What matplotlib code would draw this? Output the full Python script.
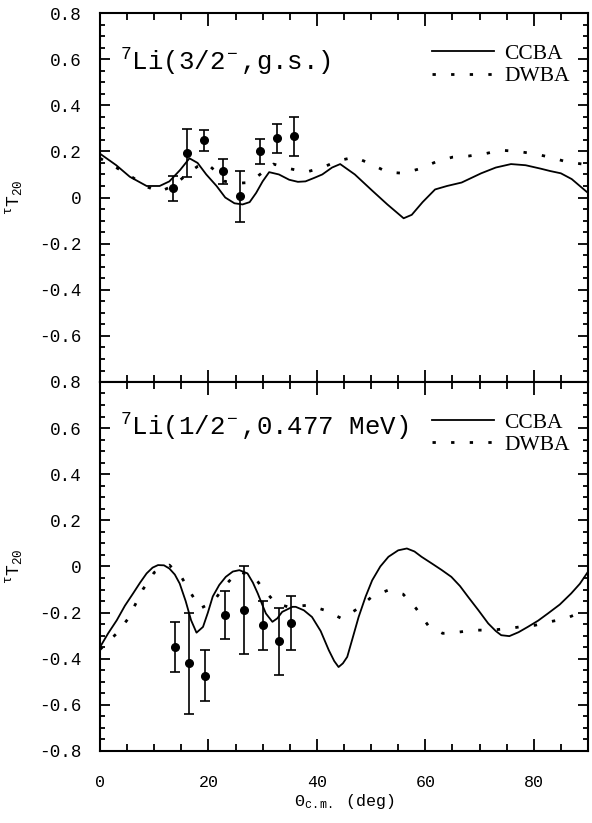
import numpy as np
import matplotlib
matplotlib.use("Agg")
import matplotlib.pyplot as plt
from matplotlib.ticker import MultipleLocator

plt.rcParams['mathtext.fontset'] = 'custom'
plt.rcParams['mathtext.rm'] = 'Liberation Mono'
plt.rcParams['mathtext.it'] = 'Liberation Mono'
plt.rcParams['font.family'] = ['Liberation Mono', 'DejaVu Sans']

### top panel: 7Li(3/2-, g.s.)
gs_x = [13.4, 16.0, 19.2, 22.7, 25.8, 29.5, 32.6, 35.8]
gs_y = [0.04, 0.194, 0.248, 0.114, 0.005, 0.20, 0.257, 0.265]
gs_err = [0.055, 0.105, 0.045, 0.055, 0.11, 0.055, 0.062, 0.085]

gs_ccba_x = [0, 3, 5.5, 8.6, 11, 12.8, 14.8, 16.5, 18, 19.6, 21.5, 23.1, 24.8, 26.3,
             27.6, 28.8, 30, 31.2, 33, 34.9, 36.5, 37.9, 39.5, 41, 42.8, 44.3, 47,
             50.2, 53, 56, 57.5, 59.5, 61.8, 64, 66.7, 70.3, 73, 75.8, 78.5, 81.3,
             83, 85, 87, 89, 90]
gs_ccba_y = [0.19, 0.14, 0.09, 0.05, 0.05, 0.07, 0.12, 0.17, 0.15, 0.10, 0.05, 0.0,
             -0.025, -0.03, -0.02, 0.02, 0.07, 0.11, 0.10, 0.077, 0.068, 0.07, 0.085,
             0.10, 0.13, 0.145, 0.10, 0.03, -0.03, -0.09, -0.075, -0.02, 0.035, 0.05,
             0.065, 0.105, 0.13, 0.145, 0.14, 0.125, 0.115, 0.105, 0.08, 0.04, 0.02]

gs_dwba_x = [0, 3, 5.5, 8.6, 11, 13.4, 15, 16.5, 18, 19.6, 21.5, 23, 25.5, 27.5, 29.5,
             32, 35, 38, 41, 44, 47, 50, 53, 56, 59, 62, 65, 68, 71, 74, 77, 80, 83,
             86, 89, 90]
gs_dwba_y = [0.17, 0.13, 0.095, 0.047, 0.025, 0.05, 0.08, 0.11, 0.135, 0.15, 0.11,
             0.07, 0.062, 0.065, 0.10, 0.145, 0.125, 0.11, 0.13, 0.16, 0.175, 0.145,
             0.11, 0.105, 0.125, 0.155, 0.175, 0.18, 0.19, 0.205, 0.20, 0.19, 0.175,
             0.155, 0.145, 0.14]

### bottom panel: 7Li(1/2-, 0.477 MeV)
ex_x = [13.8, 16.4, 19.3, 23.1, 26.5, 30.0, 33.0, 35.3]
ex_y = [-0.349, -0.42, -0.473, -0.21, -0.19, -0.255, -0.324, -0.245]
ex_err = [0.11, 0.22, 0.11, 0.105, 0.19, 0.105, 0.145, 0.115]

ex_ccba_x = [0, 1.5, 3.1, 4.6, 6.1, 7.4, 8.6, 9.7, 10.7, 11.8, 12.8, 13.8, 14.7, 15.8,
             16.8, 17.8, 19.0, 19.9, 20.8, 22.0, 23.2, 24.5, 25.7, 27.2, 28.2, 29.1,
             30.0, 30.6, 31.8, 32.7, 33.6, 35.5, 36.1, 37.6, 39.1, 40.7, 42.2, 43.2,
             44.0, 44.8, 45.6, 46.6, 47.7, 49.0, 50.2, 51.7, 53.2, 55.0, 56.6, 58.0,
             59.3, 61.2, 63.0, 64.8, 66.4, 67.9, 69.8, 71.6, 73.0, 74.0, 75.5, 77.2,
             78.9, 80.8, 82.6, 84.8, 86.9, 88.5, 90]
ex_ccba_y = [-0.35, -0.29, -0.233, -0.17, -0.117, -0.07, -0.03, -0.005, 0.006, 0.005,
             -0.009, -0.035, -0.074, -0.15, -0.233, -0.287, -0.262, -0.2, -0.13, -0.08,
             -0.045, -0.022, -0.016, -0.03, -0.07, -0.117, -0.17, -0.204, -0.24, -0.225,
             -0.197, -0.175, -0.175, -0.19, -0.219, -0.28, -0.363, -0.41, -0.436, -0.42,
             -0.392, -0.31, -0.219, -0.13, -0.06, 0.0, 0.042, 0.07, 0.078, 0.065, 0.042,
             0.013, -0.015, -0.045, -0.085, -0.132, -0.19, -0.247, -0.28, -0.298,
             -0.302, -0.285, -0.262, -0.235, -0.204, -0.165, -0.117, -0.075, -0.023]

ex_dwba_x = [0, 3.1, 5.2, 7.9, 10.0, 12.8, 15.0, 16.8, 18.5, 20.9, 23.1, 25.5, 28.2,
             30.4, 32.5, 34.7, 38.5, 41.5, 44.6, 47.6, 50.1, 53.1, 55.9, 58.3, 60.5,
             63.2, 66.0, 69.0, 72.0, 75.1, 77.4, 80.2, 82.9, 85.9, 88.1, 90]
ex_dwba_y = [-0.36, -0.29, -0.226, -0.1, -0.026, 0.006, -0.045, -0.117, -0.182, -0.153,
             -0.081, -0.023, -0.038, -0.106, -0.161, -0.175, -0.168, -0.19, -0.226,
             -0.182, -0.132, -0.103, -0.12, -0.182, -0.255, -0.29, -0.285, -0.276,
             -0.276, -0.27, -0.262, -0.255, -0.24, -0.226, -0.204, -0.2]

yticks = [0.8, 0.6, 0.4, 0.2, 0, -0.2, -0.4, -0.6, -0.8]
ytick_labels = ["0.8", "0.6", "0.4", "0.2", "0", "-0.2", "-0.4", "-0.6", "-0.8"]
xticks = [0, 20, 40, 60, 80]

fig = plt.figure(figsize=(5.92, 8.23), dpi=100)
ax1 = fig.add_axes([0.1689, 0.5358, 0.8243, 0.4484])
ax2 = fig.add_axes([0.1689, 0.0875, 0.8243, 0.4484])

dots = (0, (1.2, 5.5))

panels = [
    (ax1, gs_x, gs_y, gs_err, gs_ccba_x, gs_ccba_y, gs_dwba_x, gs_dwba_y,
     r'$^7$Li(3/2$^-$,g.s.)', 0.553),
    (ax2, ex_x, ex_y, ex_err, ex_ccba_x, ex_ccba_y, ex_dwba_x, ex_dwba_y,
     r'$^7$Li(1/2$^-$,0.477 MeV)', 0.57),
]

for ax, px, py, perr, cx, cy, dx, dy, title, ty in panels:
    ax.plot(cx, cy, color='black', lw=1.3, label='CCBA')
    ax.plot(dx, dy, color='black', lw=2.0, linestyle=dots, label='DWBA')
    ax.errorbar(px, py, yerr=perr, fmt='o', color='black', ms=5.5,
                elinewidth=1.2, capsize=3.5, capthick=1.2)
    ax.text(3.7, ty, title, fontsize=18.5, va='baseline', ha='left')
    ax.legend(loc='upper right', bbox_to_anchor=(0.98, 0.94), frameon=False,
              prop={'family': 'Liberation Serif', 'size': 15.5},
              handlelength=2.9, handletextpad=0.45, labelspacing=0.1,
              borderaxespad=0)

    ax.set_xlim(0, 90)
    ax.set_ylim(-0.8, 0.8)
    ax.set_xticks(xticks)
    ax.xaxis.set_minor_locator(MultipleLocator(5))
    ax.set_yticks(yticks)
    ax.yaxis.set_minor_locator(MultipleLocator(0.05))
    ax.tick_params(which='both', direction='in', top=True, right=True, width=1.3)
    ax.tick_params(axis='x', which='major', length=9)
    ax.tick_params(axis='x', which='minor', length=5)
    ax.tick_params(axis='y', which='major', length=7.5)
    ax.tick_params(axis='y', which='minor', length=3.8)
    ax.tick_params(axis='y', labelsize=12.7, pad=13)
    ax.tick_params(axis='x', labelsize=12, pad=17)
    for s in ax.spines.values():
        s.set_linewidth(1.5)
    ax.set_ylabel(r'$^{\tau}\mathrm{T}_{20}$', fontsize=13, labelpad=4)

ax1.set_yticklabels(ytick_labels[:-1] + [""])
ax1.set_xticklabels([])
ax2.set_yticklabels(ytick_labels)
ax2.set_xticklabels([str(v) for v in xticks])
ax2.set_xlabel(r'$\Theta_{\mathrm{c.m.}}$ (deg)', fontsize=12, labelpad=2)

ax1.yaxis.set_label_coords(-0.155, 0.5)
ax2.yaxis.set_label_coords(-0.155, 0.5)

fig.savefig("out.png", dpi=100)
